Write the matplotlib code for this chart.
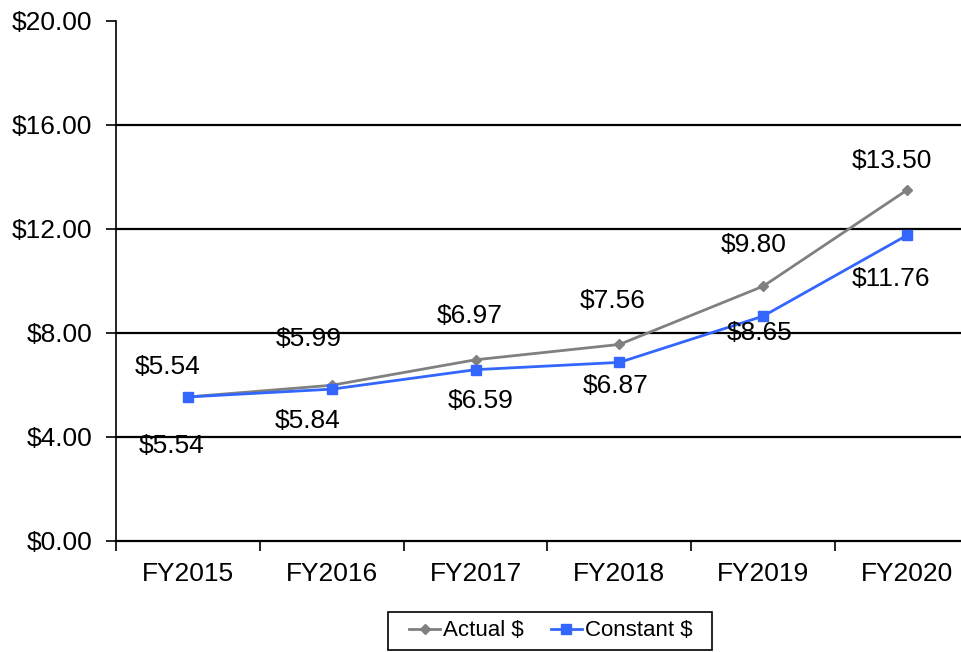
import matplotlib.pyplot as plt
import numpy as np
from matplotlib.ticker import FixedLocator
from matplotlib.patches import Rectangle

plt.rcParams['font.family'] = ['Liberation Sans', 'DejaVu Sans']

years = ['FY2015', 'FY2016', 'FY2017', 'FY2018', 'FY2019', 'FY2020']
actual = [5.54, 5.99, 6.97, 7.56, 9.80, 13.50]
constant = [5.54, 5.84, 6.59, 6.87, 8.65, 11.76]

# label offsets in pixels (dx, dy) from each point, placed by hand as in the original
actual_off = [(-20, 30), (-23, 46), (-6, 44), (-7, 43), (-10, 41), (-15, 29)]
constant_off = [(-16, -49), (-24, -32), (5, -31), (-4, -24), (-4, -17), (-16, -44)]

fig = plt.figure(figsize=(9.62, 6.52), dpi=100)
ax = fig.add_axes([116 / 962, 1 - 541 / 652, 863 / 962, 520 / 652])

x = np.arange(len(years))
ax.plot(x, actual, color='#808080', lw=2, marker='D', ms=5, label='Actual $')
ax.plot(x, constant, color='#3366FF', lw=2, marker='s', ms=7, label='Constant $')

for i in range(len(years)):
    ax.annotate('$%.2f' % actual[i], (x[i], actual[i]), xytext=actual_off[i],
                textcoords='offset pixels', ha='center', va='center', fontsize=19)
    ax.annotate('$%.2f' % constant[i], (x[i], constant[i]), xytext=constant_off[i],
                textcoords='offset pixels', ha='center', va='center', fontsize=19)

ax.set_xlim(-0.5, 5.5)
ax.set_ylim(0, 20)
ax.set_yticks([0, 4, 8, 12, 16, 20])
ax.set_yticklabels(['$%.2f' % v for v in [0, 4, 8, 12, 16, 20]], fontsize=19)
ax.set_xticks(x)
ax.set_xticklabels(years, fontsize=19)
ax.xaxis.set_minor_locator(FixedLocator(np.arange(-0.5, 6, 1)))
ax.tick_params(axis='x', which='major', length=0, pad=15)
ax.tick_params(axis='x', which='minor', length=7, width=1.2, color='black')
ax.tick_params(axis='y', length=7, width=1.2, pad=10)

for v in [4, 8, 12, 16]:
    ax.axhline(v, color='black', lw=1.6, zorder=0)

ax.spines['top'].set_visible(False)
ax.spines['right'].set_visible(False)
ax.spines['left'].set_linewidth(1.2)
ax.spines['bottom'].set_linewidth(1.6)

# legend with a hand-sized box like the original
leg = fig.legend(loc='center', bbox_to_anchor=(551 / 962, 1 - 631 / 652), ncol=2,
                 fontsize=16, frameon=False,
                 handlelength=1.4, handletextpad=0.15, columnspacing=1.2)
fig.patches.append(Rectangle((388 / 962, 1 - 650 / 652), 324 / 962, 38 / 652,
                             transform=fig.transFigure, fill=False,
                             edgecolor='black', lw=1.2))

fig.savefig('out.png', dpi=100)
